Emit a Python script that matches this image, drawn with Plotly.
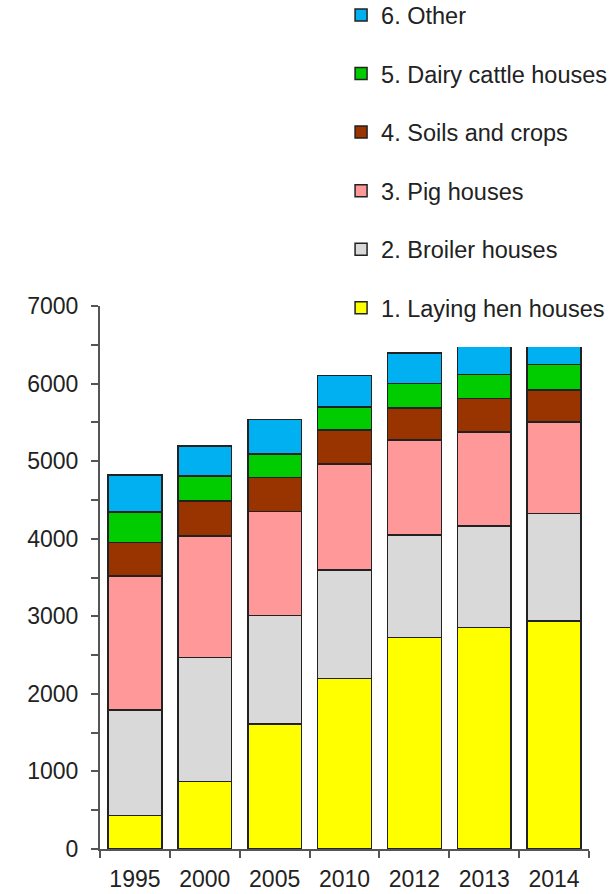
import plotly.graph_objects as go

years = ["1995", "2000", "2005", "2010", "2012", "2013", "2014"]
laying_hen = [430, 870, 1610, 2200, 2725, 2855, 2940]
broiler = [1365, 1600, 1400, 1395, 1320, 1310, 1385]
pig = [1725, 1565, 1340, 1370, 1225, 1210, 1180]
soils = [430, 450, 440, 435, 415, 430, 415]
dairy = [395, 325, 300, 300, 315, 315, 325]
other = [475, 385, 445, 405, 395, 400, 420]

series = [
    ("1. Laying hen houses", laying_hen, "#FFFF00"),
    ("2. Broiler houses", broiler, "#D9D9D9"),
    ("3. Pig houses", pig, "#FF9999"),
    ("4. Soils and crops", soils, "#993300"),
    ("5. Dairy cattle houses", dairy, "#00CC00"),
    ("6. Other", other, "#00B0F0"),
]

FONT = "Liberation Sans, Arial, sans-serif"
FS = 23

fig = go.Figure()
n = len(series)
for i, (name, vals, col) in enumerate(series):
    fig.add_trace(go.Bar(
        x=years, y=vals, name=name, legendgroup=name,
        legendrank=n - i,
        marker=dict(color=col, line=dict(color="#222222", width=1.5)),
    ))

fig.update_layout(
    barmode="stack",
    bargap=0.23,
    width=616, height=894,
    margin=dict(l=100, r=27, t=306, b=45, autoexpand=False),
    paper_bgcolor="white",
    plot_bgcolor="white",
    font=dict(family=FONT, size=FS, color="#222222"),
    showlegend=True,
    legend=dict(
        x=0.493, xanchor="left",
        y=1.576, yanchor="top",
        traceorder="grouped",
        tracegroupgap=25,
        bgcolor="rgba(0,0,0,0)",
        font=dict(family=FONT, size=23.5, color="#222222"),
    ),
    shapes=[dict(
        type="rect", xref="paper", yref="paper",
        x0=0.49, x1=1.06, y0=0.9245, y1=1.7,
        fillcolor="white", line=dict(width=0), layer="above",
    )],
    xaxis=dict(
        type="category",
        range=[-0.5, 6.5],
        tickson="boundaries",
        ticks="outside", ticklen=7, tickcolor="#555555", tickwidth=1.5,
        showline=True, linecolor="#555555", linewidth=2,
        showgrid=False,
        tickfont=dict(family=FONT, size=FS, color="#222222"),
        ticklabelstandoff=8,
    ),
    yaxis=dict(
        range=[0, 7000],
        dtick=1000,
        ticks="outside", ticklen=7, tickcolor="#555555", tickwidth=1.5,
        showline=True, linecolor="#555555", linewidth=2,
        showgrid=False, zeroline=False,
        minor=dict(dtick=500, ticks="outside", ticklen=7, tickcolor="#555555", tickwidth=1.5),
        tickfont=dict(family=FONT, size=FS, color="#222222"),
        ticklabelstandoff=8,
    ),
)

fig.write_html("out.html")
